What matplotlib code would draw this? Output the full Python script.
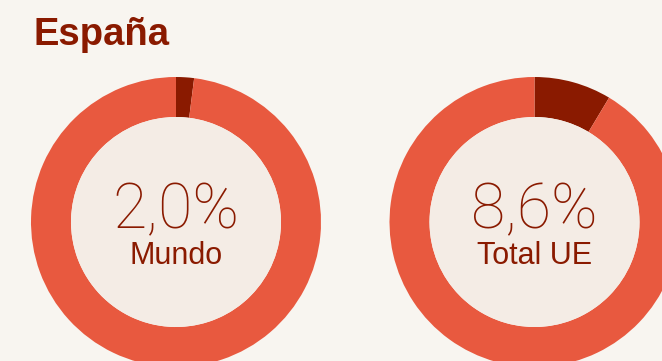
import matplotlib
matplotlib.use("Agg")
import matplotlib.pyplot as plt
from matplotlib.patches import Circle

title = "España"
regions = ["Mundo", "Total UE"]
shares = [2.0, 8.6]          # % share shown in each donut
share_labels = ["2,0%", "8,6%"]

BG = "#f8f5f0"
INNER = "#f4ece5"
RING = "#e8593f"
DARK = "#8a1a00"

W, H = 662, 361
fig = plt.figure(figsize=(W / 100, H / 100), dpi=100, facecolor=BG)
ax = fig.add_axes([0, 0, 1, 1])

centers_x = [176, 534.5]
cy = H - 222
r_out, r_in = 145, 105

for cx, region, val, lab in zip(centers_x, regions, shares, share_labels):
    ax.pie([val, 100 - val], colors=[DARK, RING], startangle=90,
           counterclock=False, center=(cx, cy), radius=r_out,
           wedgeprops=dict(width=r_out - r_in, linewidth=0),
           frame=True)
    ax.add_patch(Circle((cx, cy), r_in, facecolor=INNER, edgecolor="none"))
    ax.text(cx, H - 228, lab, ha="center", va="baseline", color=DARK,
            fontsize=45, family="Roboto", fontweight="light")
    ax.text(cx, H - 264, region, ha="center", va="baseline", color=DARK,
            fontsize=22, family="Liberation Sans")

ax.set_xlim(0, W)
ax.set_ylim(0, H)
ax.set_aspect("equal")
ax.axis("off")

fig.text(34 / W, 1 - 45 / H, title, ha="left", va="baseline", color=DARK,
         fontsize=27.5, fontweight="bold", family="Liberation Sans")

fig.savefig("out.png", dpi=100, facecolor=BG)
